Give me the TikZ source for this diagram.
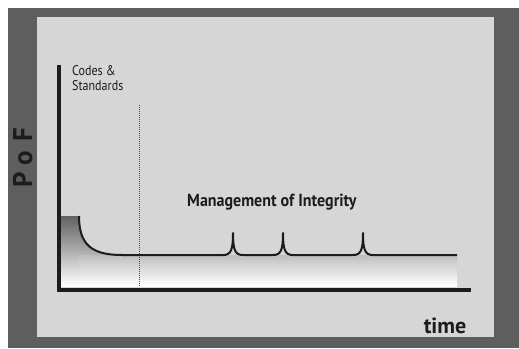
\documentclass[tikz,border=0pt]{standalone}
\usepackage{fontspec}
\setmainfont{PT Sans}
\definecolor{outerdark}{HTML}{5E5E5E}
\definecolor{panel}{HTML}{D6D6D6}
\definecolor{ink}{HTML}{1C1C1C}
\tikzset{
  axisline/.style={ink, line width=3.4pt},
  curveline/.style={ink, line width=2pt, line join=round},
  guide/.style={ink!80, line width=1pt, densely dotted},
  lbl/.style={inner sep=0pt, text=ink}
}
\begin{document}
\begin{tikzpicture}[x=1pt,y=-1pt]
\useasboundingbox (0,0) rectangle (519,348);
\fill[white] (0,0) rectangle (519,348);
\fill[outerdark] (8,8) rectangle (519,348);
\fill[panel] (37,17) rectangle (494,337);
% shaded area under the curve
\shade[top color=black!25, bottom color=white] (79,255) rectangle (457,286);
\shade[top color=black!62, bottom color=white] (61,216) rectangle (79,286);
\begin{scope}
\clip (79,214) .. controls (79,245) and (92,255) .. (122,255) -- (79,255) -- cycle;
\shade[top color=black!62, bottom color=black!28] (78,216) rectangle (122,256);
\end{scope}
\shade[top color=black!62, bottom color=black!28] (61,216) rectangle (79,255);
% axes
\coordinate (ytop) at (59,65);
\coordinate (origin) at (59,290);
\coordinate (xend) at (471,290);
\draw[axisline] (ytop) -- (origin) -- (xend);
% dotted guide
\coordinate (gtop) at (139,105);
\coordinate (gbot) at (139,286);
\draw[guide] (gtop) -- (gbot);
% curve
\draw[curveline] (79,216) .. controls (79,245) and (92,255) .. (122,255)
  -- (223,255) .. controls (231,255) and (233,250) .. (233,233)
  .. controls (233,250) and (235,255) .. (243,255)
  -- (273,255) .. controls (281,255) and (283,250) .. (283,233)
  .. controls (283,250) and (285,255) .. (293,255)
  -- (353,255) .. controls (361,255) and (363,250) .. (363,233)
  .. controls (363,250) and (365,255) .. (373,255)
  -- (457,255);
% labels
\node[lbl, anchor=base west, font=\fontsize{14}{15}\selectfont] (codes) at (72,75) {\scalebox{0.86}[1]{Codes \&}};
\node[lbl, anchor=base west, font=\fontsize{14}{15}\selectfont] (standards) at (72,90) {\scalebox{0.86}[1]{Standards}};
\node[lbl, anchor=base west, font=\bfseries\fontsize{17.5}{20}\selectfont] (moi) at (187,206) {\scalebox{0.915}[1]{Management of Integrity}};
\node[lbl, anchor=base, rotate=90, font=\bfseries\fontsize{27}{28}\selectfont] (pof) at (32,157.5) {P\hspace{6pt}o\hspace{10pt}F};
\node[lbl, anchor=base, font=\bfseries\fontsize{22}{24}\selectfont] (time) at (445,333) {time};
\end{tikzpicture}
\end{document}
